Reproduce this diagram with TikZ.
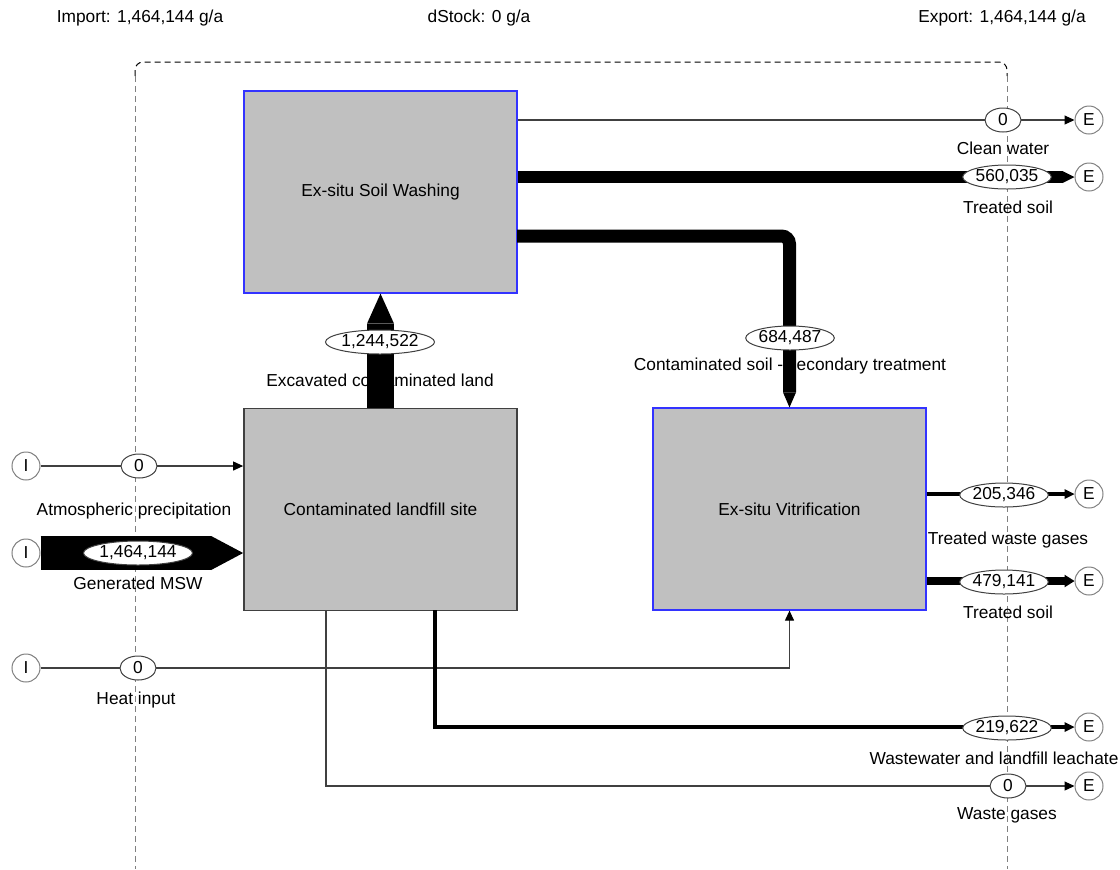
\documentclass[tikz,border=0pt]{standalone}
\usepackage{fontspec}
\setmainfont{Liberation Sans}
\usetikzlibrary{arrows.meta,shapes.geometric}
\definecolor{boxgray}{HTML}{C0C0C0}
\definecolor{lgray}{HTML}{404040}
\definecolor{bblue}{HTML}{3333FF}
\begin{document}
\begin{tikzpicture}[x=0.75pt,y=-0.75pt,
  font=\fontsize{13}{15}\selectfont,
  proc/.style={draw=bblue, fill=boxgray, line width=0.9pt, minimum width=204.75pt, minimum height=151.5pt, inner sep=0pt},
  landbox/.style={proc, draw=lgray, line width=1.3pt},
  val/.style={ellipse, draw=lgray, fill=white, line width=0.75pt, inner xsep=0pt, inner ysep=0.5pt, minimum width=27pt, minimum height=18pt},
  term/.style={circle, draw=gray, fill=white, line width=0.75pt, minimum size=21pt, inner sep=0pt},
  lbl/.style={inner sep=0pt},
  thinflow/.style={draw=lgray, line width=0.8pt, -{Triangle[length=7.5pt,width=6.75pt,color=black]}},
  fatflow/.style n args={2}{draw=black, line width=#1, -{Triangle[length=#2, width=0pt 1, line width=0pt]}},
  midflow/.style n args={3}{draw=black, line width=#1, -{Triangle[length=#2, width=#3, line width=0pt]}},
  bound/.style={line width=0.75pt, dash pattern=on 4.5pt off 3pt}
]
\useasboundingbox (0,0) rectangle (1120,869);

% system boundary
\draw[bound, black, rounded corners=6pt] (135,76) |- (1007,62) -- (1007,76);
\draw[bound, gray] (135,76) -- (135,869);
\draw[bound, gray] (1007,76) -- (1007,869);

% header texts
\node[lbl] (imp) at (140,18) {Import: 1,464,144 g/a};
\node[lbl] (dst) at (479,18) {dStock: 0 g/a};
\node[lbl] (exp) at (1002,18) {Export: 1,464,144 g/a};

% processes
\node[proc] (wash) at (380.5,192) {Ex-situ Soil Washing};
\node[landbox] (land) at (380.5,509.5) {Contaminated landfill site};
\node[proc] (vitr) at (789.5,509) {Ex-situ Vitrification};

% import / export terminals
\node[term] (I1) at (26,466) {I};
\node[term] (I2) at (26,553) {I};
\node[term] (I3) at (26,668) {I};
\node[term] (E1) at (1089,120) {E};
\node[term] (E2) at (1089,177) {E};
\node[term] (E3) at (1089,494) {E};
\node[term] (E4) at (1089,581) {E};
\node[term] (E5) at (1089,727) {E};
\node[term] (E6) at (1089,786) {E};

% flow labels
\node[lbl] (lcw) at (1003,148) {Clean water};
\node[lbl] (lts1) at (1008,207) {Treated soil};
\node[lbl] (lsec) at (790,366) {Contaminated soil - secondary treatment};
\node[lbl] (lexc) at (380,380) {Excavated contaminated land};
\node[lbl] (latm) at (134,511) {Atmospheric precipitation};
\node[lbl] (lmsw) at (138,583) {Generated MSW};
\node[lbl] (lheat) at (136,700) {Heat input};
\node[lbl] (ltwg) at (1008,540) {Treated waste gases};
\node[lbl] (lts2) at (1008,612) {Treated soil};
\node[lbl] (lww) at (994,758) {Wastewater and landfill leachate};
\node[lbl] (lwg) at (1007,815) {Waste gases};

% anchor coordinates
\coordinate (wwst) at (435,610);
\coordinate (wgst) at (326,610);
\coordinate (secst) at (517,236);

% flows
\draw[thinflow] (wash.east |- E1) -- (E1);
\draw[fatflow={9pt}{9pt}] (wash.east |- E2) -- (E2);
\draw[fatflow={9.75pt}{11.25pt}, rounded corners=6pt] (secst) -| (vitr.north);
\draw[fatflow={20.25pt}{22.5pt}] (land.north) -- (wash.south);
\draw[thinflow] (I1) -- (land.west |- I1);
\draw[fatflow={25.5pt}{24pt}] (I2) -- (land.west |- I2);
\draw[thinflow] (I3) -| (vitr.south);
\draw[midflow={3pt}{7.5pt}{7.5pt}] (vitr.east |- E3) -- (E3);
\draw[midflow={6pt}{7.5pt}{9.5pt}] (vitr.east |- E4) -- (E4);
\draw[midflow={3pt}{7.5pt}{7.5pt}, line join=miter] (wwst) |- (E5);
\draw[thinflow] (wgst) |- (E6);

% flow values
\node[val] (vcw) at (1003,120) {0};
\node[val] (vts1) at (1007,177) {560,035};
\node[val] (vsec) at (790,338) {684,487};
\node[val] (vexc) at (380,342) {1,244,522};
\node[val] (vatm) at (139,466) {0};
\node[val] (vmsw) at (138,553) {1,464,144};
\node[val] (vheat) at (138,668) {0};
\node[val] (vtwg) at (1004,495) {205,346};
\node[val] (vts2) at (1004,582) {479,141};
\node[val] (vww) at (1007,728) {219,622};
\node[val] (vwg) at (1008,786) {0};
\end{tikzpicture}
\end{document}
